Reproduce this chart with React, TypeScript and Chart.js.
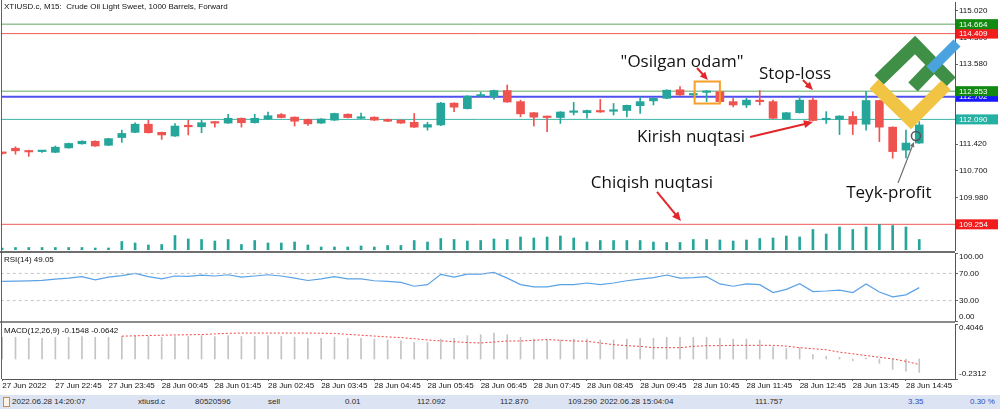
import React, { useEffect, useRef } from "react";
import { Chart, registerables } from "chart.js";

Chart.register(...registerables);

// ---------------- data ----------------
const headerText = "XTIUSD.c, M15:  Crude Oil Light Sweet, 1000 Barrels, Forward";
const rsiLabel = "RSI(14) 49.05";
const macdLabel = "MACD(12,26,9) -0.1548 -0.0642";

const timeTickBars = [0, 4, 8, 12, 16, 20, 24, 28, 32, 36, 40, 44, 48, 52, 56, 60, 64, 68];
const timeTickLabels = [
  "27 Jun 2022", "27 Jun 22:45", "27 Jun 23:45", "28 Jun 00:45", "28 Jun 01:45", "28 Jun 02:45",
  "28 Jun 03:45", "28 Jun 04:45", "28 Jun 05:45", "28 Jun 06:45", "28 Jun 07:45", "28 Jun 08:45",
  "28 Jun 09:45", "28 Jun 10:45", "28 Jun 11:45", "28 Jun 12:45", "28 Jun 13:45", "28 Jun 14:45",
];

const opens = [
  111.19, 111.31, 111.25, 111.22, 111.20, 111.32, 111.43, 111.50, 111.39, 111.60,
  111.74, 111.96, 111.74, 111.64, 111.92, 111.89, 112.02, 111.99, 112.12, 112.00,
  112.10, 112.22, 112.15, 112.09, 111.99, 112.07, 112.23, 112.12, 112.15, 112.09,
  112.07, 112.01, 111.88, 111.94, 112.53, 112.38, 112.72, 112.70, 112.87, 112.57,
  112.27, 112.17, 112.14, 112.28, 112.27, 112.33, 112.31, 112.33, 112.46, 112.59,
  112.66, 112.89, 112.75, 112.82, 112.84, 112.57, 112.48, 112.61, 112.57, 112.10,
  112.27, 112.61, 112.08, 112.09, 112.17, 111.96, 112.60, 111.88, 111.26, 111.45,
];
const highs = [
  111.20, 111.35, 111.26, 111.24, 111.37, 111.45, 111.51, 111.51, 111.58, 111.80,
  112.00, 112.07, 111.75, 111.98, 112.07, 112.07, 112.03, 112.23, 112.13, 112.23,
  112.29, 112.25, 112.16, 112.10, 112.11, 112.26, 112.24, 112.26, 112.16, 112.10,
  112.08, 112.25, 112.01, 112.55, 112.54, 112.73, 112.82, 112.88, 113.02, 112.61,
  112.28, 112.18, 112.30, 112.55, 112.34, 112.63, 112.52, 112.48, 112.69, 112.67,
  112.89, 112.98, 112.80, 112.87, 112.86, 112.66, 112.66, 112.87, 112.61, 112.28,
  112.72, 112.66, 112.30, 112.19, 112.30, 112.84, 112.61, 111.89, 111.80, 112.03,
];
const lows = [
  111.15, 111.15, 111.09, 111.20, 111.19, 111.31, 111.42, 111.36, 111.38, 111.47,
  111.73, 111.72, 111.55, 111.63, 111.67, 111.73, 111.88, 111.98, 111.88, 111.99,
  112.09, 112.13, 111.91, 111.93, 111.98, 112.06, 112.13, 112.11, 112.06, 112.03,
  111.98, 111.87, 111.80, 111.92, 112.30, 112.37, 112.71, 112.64, 112.55, 112.16,
  111.91, 111.76, 111.98, 112.21, 112.12, 112.28, 112.21, 112.16, 112.25, 112.48,
  112.65, 112.74, 112.74, 112.57, 112.55, 112.43, 112.41, 112.48, 112.11, 112.09,
  112.26, 112.05, 111.98, 111.68, 111.68, 111.80, 111.49, 111.04, 111.05, 111.44,
];
const closes = [
  111.17, 111.24, 111.21, 111.23, 111.34, 111.44, 111.50, 111.37, 111.57, 111.71,
  111.96, 111.73, 111.67, 111.91, 111.89, 112.00, 111.99, 112.12, 112.00, 112.12,
  112.19, 112.14, 112.04, 111.97, 112.10, 112.25, 112.14, 112.16, 112.07, 112.04,
  111.99, 111.88, 111.95, 112.53, 112.42, 112.72, 112.73, 112.87, 112.56, 112.24,
  112.15, 112.14, 112.29, 112.29, 112.33, 112.29, 112.34, 112.47, 112.57, 112.66,
  112.88, 112.75, 112.79, 112.85, 112.57, 112.48, 112.61, 112.57, 112.12, 112.27,
  112.61, 112.06, 112.10, 112.18, 111.96, 112.60, 111.88, 111.22, 111.45, 111.94,
];
const volumes = [
  60, 75, 75, 75, 75, 75, 75, 60, 60, 255,
  210, 150, 165, 435, 330, 315, 270, 315, 165, 285,
  210, 210, 240, 150, 90, 90, 90, 120, 90, 135,
  135, 285, 240, 345, 315, 270, 285, 330, 315, 390,
  360, 390, 420, 360, 240, 285, 285, 285, 285, 240,
  225, 225, 315, 315, 300, 270, 300, 345, 360, 420,
  390, 615, 480, 690, 615, 690, 765, 735, 690, 315,
];
const rsiValues = [
  58.2, 58.5, 59.0, 59.6, 61.5, 63.0, 65.2, 60.6, 64.4, 66.6,
  70.0, 65.2, 62.0, 66.2, 65.6, 67.6, 66.2, 68.0, 64.4, 66.2,
  68.0, 66.2, 63.0, 59.6, 62.0, 65.2, 62.0, 62.0, 59.2, 58.2,
  56.9, 51.1, 53.5, 68.6, 64.4, 69.0, 69.0, 71.4, 63.0, 53.5,
  50.3, 50.3, 53.5, 53.5, 55.9, 53.5, 55.9, 59.2, 61.5, 63.8,
  67.6, 63.0, 63.8, 65.2, 54.5, 51.1, 54.5, 53.5, 41.8, 46.5,
  54.9, 43.2, 44.1, 45.5, 41.8, 54.5, 42.7, 35.6, 38.5, 49.05,
];
const macdMain = [
  0.25, 0.25, 0.24, 0.24, 0.25, 0.25, 0.26, 0.25, 0.25, 0.26,
  0.27, 0.26, 0.25, 0.26, 0.26, 0.27, 0.26, 0.27, 0.26, 0.26,
  0.27, 0.26, 0.25, 0.24, 0.24, 0.25, 0.24, 0.24, 0.23, 0.22,
  0.21, 0.19, 0.19, 0.23, 0.24, 0.27, 0.28, 0.30, 0.28, 0.25,
  0.23, 0.22, 0.22, 0.23, 0.23, 0.22, 0.22, 0.23, 0.24, 0.24,
  0.25, 0.25, 0.25, 0.25, 0.24, 0.23, 0.23, 0.22, 0.14, 0.12,
  0.13, 0.05, 0.03, 0.02, -0.02, 0.01, -0.05, -0.12, -0.14, -0.1548,
];
const macdSignal = [
  null, null, null, null, null, null, null, null, null, 0.264,
  0.268, 0.272, 0.275, 0.278, 0.280, 0.283, 0.290, 0.297, 0.300, 0.300,
  0.300, 0.300, 0.300, 0.300, 0.298, 0.295, 0.285, 0.275, 0.265, 0.255,
  0.248, 0.235, 0.220, 0.210, 0.200, 0.190, 0.185, 0.196, 0.208, 0.208,
  0.216, 0.225, 0.216, 0.208, 0.205, 0.185, 0.166, 0.154, 0.146, 0.131,
  0.131, 0.131, 0.146, 0.154, 0.154, 0.158, 0.158, 0.158, 0.158, 0.149,
  0.131, 0.119, 0.107, 0.079, 0.060, 0.040, 0.020, 0.001, -0.027, -0.0642,
];
const priceTicks = [115.02, 114.3, 113.58, 112.86, 112.14, 111.42, 110.7, 109.98, 109.26];
const levelPrices = [114.664, 114.409, 112.853, 112.702, 112.09, 109.254];
const rsiTicks = [100, 70, 30, 0];
const rsiLevels = [70, 30];
const macdTicks = [0.4046, -0.2312];
const statusCells = [
  "2022.06.28 14:20:07", "xtiusd.c", "80520596", "sell", "0.01", "112.092",
  "112.870", "109.290", "2022.06.28 15:04:04", "111.757", "3.35", "0.30 %",
];

// ---------------- styles ----------------
const FONT = "'Liberation Sans', Arial, sans-serif";
const ANNO_FONT = "'Open Sans', 'Noto Sans', sans-serif";
const BULL = "#26a69a";
const BEAR = "#ef5350";
const X_MIN = -0.015;
const X_MAX = 71.69;
const P_MIN = 108.56;
const P_MAX = 115.263;
const levelLineColors = ["#62a862", "#f05a5a", "#62a862", "#5050ee", "#3cb4a6", "#f05a5a"];
const levelLineWidths = [1, 1, 1, 2, 1, 1];
const levelBoxColors = ["#128a12", "#f21c1c", "#128a12", "#1818ff", "#24b0a2", "#f21c1c"];
const levelBoxOrder = [1, 0, 3, 2, 4, 5];
const statusX = [12, 138, 195, 268, 345, 417, 500, 568, 600, 755, 908, 970];

const bars = opens.map((_, i) => i);
const candleColors = bars.map((i) => (closes[i] >= opens[i] ? BULL : BEAR));

function arrow(ctx: CanvasRenderingContext2D, x1: number, y1: number, x2: number, y2: number, color: string, lw: number, head: number) {
  const a = Math.atan2(y2 - y1, x2 - x1);
  const c = Math.cos(a), s = Math.sin(a);
  ctx.strokeStyle = color;
  ctx.fillStyle = color;
  ctx.lineWidth = lw;
  ctx.beginPath();
  ctx.moveTo(x1, y1);
  ctx.lineTo(x2 - c * head * 0.8, y2 - s * head * 0.8);
  ctx.stroke();
  const w = head * 0.45;
  ctx.beginPath();
  ctx.moveTo(x2, y2);
  ctx.lineTo(x2 - head * c + w * s, y2 - head * s - w * c);
  ctx.lineTo(x2 - head * c - w * s, y2 - head * s + w * c);
  ctx.closePath();
  ctx.fill();
}

function drawLogo(ctx: CanvasRenderingContext2D) {
  ctx.save();
  ctx.lineCap = "butt";
  ctx.lineJoin = "miter";
  ctx.lineWidth = 13;
  ctx.strokeStyle = "#3f8f46";
  ctx.beginPath();
  ctx.moveTo(879, 80);
  ctx.lineTo(915, 45);
  ctx.lineTo(951, 82);
  ctx.stroke();
  ctx.beginPath();
  ctx.moveTo(935, 64);
  ctx.lineTo(913, 87);
  ctx.stroke();
  ctx.strokeStyle = "#f2c443";
  ctx.beginPath();
  ctx.moveTo(874, 84);
  ctx.lineTo(911, 120);
  ctx.lineTo(946, 85);
  ctx.stroke();
  ctx.strokeStyle = "#4aa3df";
  ctx.lineWidth = 10;
  ctx.beginPath();
  ctx.moveTo(930, 70);
  ctx.lineTo(957, 43);
  ctx.stroke();
  ctx.restore();
}

const mainPlugin = {
  id: "mainDecor",
  afterDraw(chart: any) {
    const ctx: CanvasRenderingContext2D = chart.ctx;
    const xs = chart.scales.x;
    const ys = chart.scales.y;
    const area = chart.chartArea;
    const X = (b: number) => xs.getPixelForValue(b);
    const Y = (p: number) => ys.getPixelForValue(p);
    ctx.save();
    ctx.fillStyle = "#606060";
    ctx.fillRect(area.left - 1, 0, 1, chart.height);
    ctx.fillStyle = "#111";
    ctx.font = `8px ${FONT}`;
    ctx.textAlign = "left";
    ctx.textBaseline = "middle";
    ctx.fillText(headerText, 4, 7);

    drawLogo(ctx);

    // orange box around the hanging man
    ctx.strokeStyle = "#f5a02a";
    ctx.lineWidth = 2;
    const bx1 = X(52.1), bx2 = X(54.0), by1 = Y(113.114), by2 = Y(112.519);
    ctx.strokeRect(bx1, by1, bx2 - bx1, by2 - by1);

    const red = "#e3262a";
    arrow(ctx, X(52.28), Y(113.479), X(53.1), Y(113.155), red, 2, 8);
    arrow(ctx, X(60.25), Y(113.155), X(61.0), Y(112.885), red, 2, 8);
    arrow(ctx, X(56.27), Y(111.614), X(61.0), Y(112.02), red, 2, 9);
    arrow(ctx, X(49.27), Y(110.128), X(51.07), Y(109.344), red, 2, 9);
    arrow(ctx, X(67.4), Y(110.371), X(68.6), Y(111.479), "#707070", 1.2, 5);

    ctx.strokeStyle = "#555";
    ctx.lineWidth = 1.5;
    ctx.beginPath();
    ctx.arc(X(68.75), Y(111.641), 4.5, 0, Math.PI * 2);
    ctx.stroke();

    ctx.fillStyle = "#111";
    ctx.font = `500 17px ${ANNO_FONT}`;
    ctx.textAlign = "center";
    ctx.textBaseline = "middle";
    ctx.fillText("\"Osilgan odam\"", X(51.15), Y(113.641));
    ctx.fillText("Stop-loss", X(59.65), Y(113.317));
    ctx.fillText("Kirish nuqtasi", X(51.83), Y(111.614));
    ctx.fillText("Chiqish nuqtasi", X(48.89), Y(110.371));
    ctx.fillText("Teyk-profit", X(66.72), Y(110.101));

    // price labels on axis
    ctx.font = `8px ${FONT}`;
    ctx.textAlign = "left";
    for (const k of levelBoxOrder) {
      const y = Y(levelPrices[k]);
      ctx.fillStyle = levelBoxColors[k];
      ctx.fillRect(956, y - 5, 42, 10);
      ctx.fillStyle = "#fff";
      ctx.fillText(levelPrices[k].toFixed(3), 959, y + 0.5);
    }
    ctx.restore();
  },
};

const rsiPlugin = {
  id: "rsiDecor",
  afterDraw(chart: any) {
    const ctx: CanvasRenderingContext2D = chart.ctx;
    const ys = chart.scales.y;
    const area = chart.chartArea;
    ctx.save();
    ctx.fillStyle = "#6e6e6e";
    ctx.fillRect(0, 0, area.right, 2);
    ctx.fillStyle = "#8a8a8a";
    ctx.fillRect(0, chart.height - 2, area.right, 2);
    ctx.fillStyle = "#606060";
    ctx.fillRect(area.left - 1, 0, 1, chart.height);
    ctx.fillStyle = "#111";
    ctx.font = `8px ${FONT}`;
    ctx.textAlign = "left";
    ctx.textBaseline = "middle";
    ctx.fillText(rsiLabel, 4, 9);
    for (const v of rsiTicks) {
      const y = Math.min(Math.max(ys.getPixelForValue(v), area.top + 4), area.bottom - 4);
      ctx.fillText(v.toFixed(2), 959, y);
    }
    ctx.restore();
  },
};

const macdPlugin = {
  id: "macdDecor",
  afterDraw(chart: any) {
    const ctx: CanvasRenderingContext2D = chart.ctx;
    const ys = chart.scales.y;
    const area = chart.chartArea;
    ctx.save();
    ctx.fillStyle = "#606060";
    ctx.fillRect(area.left - 1, 0, 1, area.bottom);
    ctx.fillStyle = "#111";
    ctx.font = `8px ${FONT}`;
    ctx.textAlign = "left";
    ctx.textBaseline = "middle";
    ctx.fillText(macdLabel, 4, 8);
    for (const v of macdTicks) {
      const y = Math.min(Math.max(ys.getPixelForValue(v), area.top + 4), area.bottom - 5);
      ctx.fillText(v.toFixed(4), 959, y);
    }
    ctx.restore();
  },
};

const hiddenX = { type: "linear", min: X_MIN, max: X_MAX, offset: false, display: false };

const rightAxisBase = {
  position: "right",
  grid: { drawOnChartArea: false, drawTicks: true, tickLength: 3, color: "#666" },
  border: { display: true, color: "#555", width: 1 },
};

const fit45 = (s: any) => {
  s.width = 45;
  s.paddingTop = 0;
  s.paddingBottom = 0;
};

const common = {
  responsive: false,
  animation: false,
  devicePixelRatio: 1,
  events: [],
  plugins: { legend: { display: false }, tooltip: { enabled: false } },
};

function mainConfig(): any {
  return {
    type: "bar",
    data: {
      datasets: [
        ...levelPrices.map((p, k) => ({
          type: "line",
          data: [{ x: X_MIN - 1, y: p }, { x: X_MAX + 1, y: p }],
          borderColor: levelLineColors[k],
          borderWidth: levelLineWidths[k],
          pointRadius: 0,
          yAxisID: "y",
          order: 10,
        })),
        {
          type: "bar",
          data: bars.map((i) => ({ x: i, y: volumes[i] })),
          yAxisID: "yVol",
          backgroundColor: BULL,
          barThickness: 2,
          grouped: false,
          order: 5,
        },
        {
          type: "bar",
          data: bars.map((i) => ({ x: i, y: [lows[i], highs[i]] })),
          yAxisID: "y",
          backgroundColor: candleColors,
          barThickness: 1,
          grouped: false,
          minBarLength: 1,
          order: 2,
        },
        {
          type: "bar",
          data: bars.map((i) => ({ x: i, y: [Math.min(opens[i], closes[i]), Math.max(opens[i], closes[i])] })),
          yAxisID: "y",
          backgroundColor: candleColors,
          barThickness: 8,
          grouped: false,
          minBarLength: 1.5,
          order: 1,
        },
      ],
    },
    options: {
      ...common,
      layout: { padding: { left: 2, top: 2, right: 0, bottom: 1 } },
      scales: {
        x: hiddenX,
        y: {
          ...rightAxisBase,
          type: "linear",
          min: P_MIN,
          max: P_MAX,
          afterBuildTicks: (s: any) => {
            s.ticks = priceTicks.map((v) => ({ value: v }));
          },
          afterFit: fit45,
          ticks: { color: "#111", font: { family: FONT, size: 8 }, padding: 1, callback: (v: any) => Number(v).toFixed(3) },
        },
        yVol: { type: "linear", display: false, min: 0, max: 7440 },
      },
    },
    plugins: [mainPlugin],
  };
}

function rsiConfig(): any {
  return {
    type: "line",
    data: {
      datasets: [
        ...rsiLevels.map((v) => ({
          data: [{ x: X_MIN - 1, y: v }, { x: X_MAX + 1, y: v }],
          borderColor: "#c4c4c4",
          borderDash: [3, 3],
          borderWidth: 1,
          pointRadius: 0,
        })),
        {
          data: bars.map((i) => ({ x: i, y: rsiValues[i] })),
          borderColor: "#5aa2e6",
          borderWidth: 1.2,
          pointRadius: 0,
          tension: 0,
        },
      ],
    },
    options: {
      ...common,
      layout: { padding: { left: 2, top: 2, right: 0, bottom: 2 } },
      scales: {
        x: hiddenX,
        y: {
          ...rightAxisBase,
          type: "linear",
          min: 0,
          max: 100,
          afterBuildTicks: (s: any) => {
            s.ticks = rsiTicks.map((v) => ({ value: v }));
          },
          afterFit: fit45,
          ticks: { display: false },
        },
      },
    },
    plugins: [rsiPlugin],
  };
}

function macdConfig(): any {
  return {
    type: "bar",
    data: {
      datasets: [
        {
          type: "line",
          data: bars.map((i) => ({ x: i, y: macdSignal[i] })),
          borderColor: "#ee4444",
          borderDash: [2, 2],
          borderWidth: 1,
          pointRadius: 0,
          order: 1,
        },
        {
          type: "bar",
          data: bars.map((i) => ({ x: i, y: macdMain[i] })),
          backgroundColor: "#c4c4c4",
          barThickness: 1,
          grouped: false,
          order: 2,
        },
      ],
    },
    options: {
      ...common,
      layout: { padding: { left: 2, top: 1, right: 0, bottom: 0 } },
      scales: {
        x: {
          type: "linear",
          min: X_MIN,
          max: X_MAX,
          offset: false,
          position: "bottom",
          afterBuildTicks: (s: any) => {
            s.ticks = timeTickBars.map((v) => ({ value: v }));
          },
          afterFit: (s: any) => {
            s.height = 15;
            s.paddingLeft = 0;
            s.paddingRight = 0;
          },
          ticks: {
            autoSkip: false,
            maxRotation: 0,
            minRotation: 0,
            align: "start",
            padding: 0,
            color: "#111",
            font: { family: FONT, size: 8 },
            callback: (v: any) => {
              const k = timeTickBars.indexOf(Number(v));
              return k >= 0 ? timeTickLabels[k] : "";
            },
          },
          grid: { drawOnChartArea: false, offset: false, tickLength: 2, color: "#666" },
          border: { color: "#555" },
        },
        y: {
          ...rightAxisBase,
          type: "linear",
          min: macdTicks[1],
          max: macdTicks[0],
          afterBuildTicks: (s: any) => {
            s.ticks = macdTicks.map((v) => ({ value: v }));
          },
          afterFit: fit45,
          ticks: { display: false },
        },
      },
    },
    plugins: [macdPlugin],
  };
}

export default function App() {
  const mainRef = useRef<HTMLCanvasElement>(null);
  const rsiRef = useRef<HTMLCanvasElement>(null);
  const macdRef = useRef<HTMLCanvasElement>(null);

  useEffect(() => {
    const charts: Chart[] = [];
    if (mainRef.current) charts.push(new Chart(mainRef.current, mainConfig()));
    if (rsiRef.current) charts.push(new Chart(rsiRef.current, rsiConfig()));
    if (macdRef.current) charts.push(new Chart(macdRef.current, macdConfig()));
    return () => charts.forEach((c) => c.destroy());
  }, []);

  return (
    <div style={{ position: "absolute", left: 0, top: 0, width: 1000, height: 409, background: "#fff", overflow: "hidden" }}>
      <canvas ref={mainRef} width={1000} height={251} style={{ position: "absolute", left: 0, top: 0 }} />
      <canvas ref={rsiRef} width={1000} height={72} style={{ position: "absolute", left: 0, top: 251 }} />
      <canvas ref={macdRef} width={1000} height={71} style={{ position: "absolute", left: 0, top: 323 }} />
      <div
        style={{
          position: "absolute",
          left: 0,
          top: 395,
          width: 1000,
          height: 14,
          background: "#dce3f3",
          fontFamily: FONT,
          fontSize: 8,
          lineHeight: "14px",
          color: "#2a2a2a",
        }}
      >
        <div style={{ position: "absolute", left: 3, top: 2, width: 5, height: 8, border: "1px solid #c98a5a", background: "#fff3e6" }} />
        {statusCells.map((t, i) => (
          <span
            key={i}
            style={{ position: "absolute", left: statusX[i], top: 0, whiteSpace: "nowrap", color: i >= 10 ? "#2c4cc0" : "#2a2a2a" }}
          >
            {t}
          </span>
        ))}
      </div>
    </div>
  );
}
